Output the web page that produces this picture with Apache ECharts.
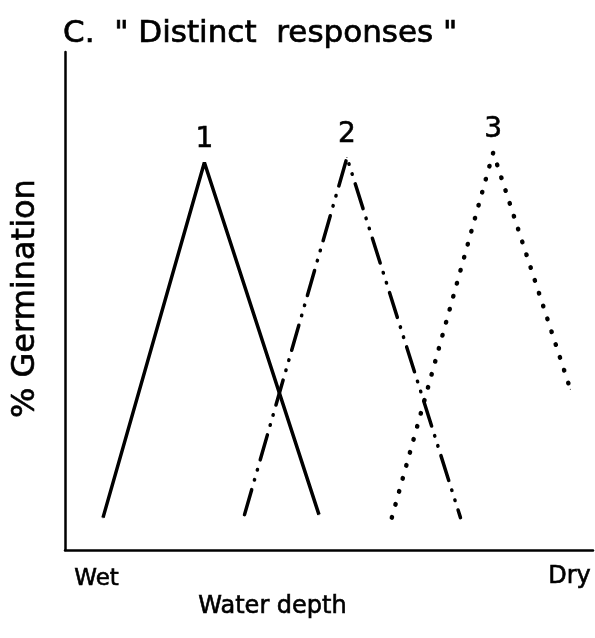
<!DOCTYPE html>
<html><head><meta charset="utf-8">
<script src="https://cdn.jsdelivr.net/npm/echarts@6/dist/echarts.min.js"></script>
<style>html,body{margin:0;padding:0;background:#fff}#c{width:595px;height:638px}</style>
</head><body><div id="c"></div>
<script>
// Water depth (0 = wet, 100 = dry), % germination (relative)
const seriesNames = ['1', '2', '3'];
const s1x = [7.2, 26.4, 48.1];
const s1y = [6.5, 77.8, 7.1];
const s2x = [34.0, 53.4, 74.9];
const s2y = [7.1, 78.8, 6.5];
const s3x = [61.9, 81.1, 95.7];
const s3y = [6.5, 79.8, 32.3];
const peakIndex = 1;

const F = 'DejaVu Sans';
function pts(xs, ys, name) {
  return xs.map((x, i) => {
    const d = { value: [x, ys[i]] };
    if (i === peakIndex) d.label = { show: true, formatter: name, position: 'top', distance: 8,
      fontFamily: F, fontSize: 28, color: '#000', textBorderColor: '#000', textBorderWidth: 0.6 };
    return d;
  });
}
const chart = echarts.init(document.getElementById('c'), null, { renderer: 'canvas' });
chart.setOption({
  animation: false,
  backgroundColor: '#fff',
  grid: { left: 65, right: 2, top: 52, bottom: 88 },
  title: { text: 'C.  " Distinct  responses "', left: 58, top: 13,
    textStyle: { fontFamily: F, fontSize: 31, fontWeight: 'normal', color: '#000',
      textBorderColor: '#000', textBorderWidth: 0.7 } },
  xAxis: { type: 'value', min: 0, max: 100, axisLine: { lineStyle: { color: '#000', width: 2.5 } },
    axisTick: { show: false }, axisLabel: { show: false }, splitLine: { show: false } },
  yAxis: { type: 'value', min: 0, max: 100, axisLine: { show: true, lineStyle: { color: '#000', width: 2.5 } },
    axisTick: { show: false }, axisLabel: { show: false }, splitLine: { show: false } },
  graphic: [
    { type: 'text', left: 74, top: 567, style: { text: 'Wet', font: '23px "DejaVu Sans"', fill: '#000', stroke: '#000', lineWidth: 0.6 } },
    { type: 'text', right: 4, top: 564, style: { text: 'Dry', font: '24px "DejaVu Sans"', fill: '#000', stroke: '#000', lineWidth: 0.6 } },
    { type: 'text', left: 198, top: 594, style: { text: 'Water depth', font: '24px "DejaVu Sans"', fill: '#000', stroke: '#000', lineWidth: 0.6 } },
    { type: 'text', x: 10, y: 418, rotation: Math.PI / 2, style: { text: '% Germination', font: '32px "DejaVu Sans"', fill: '#000', stroke: '#000', lineWidth: 0.6 } }
  ],
  series: [
    { type: 'line', name: seriesNames[0], data: pts(s1x, s1y, seriesNames[0]), symbol: 'circle', symbolSize: 1,
      itemStyle: { color: '#000' }, lineStyle: { color: '#000', width: 3.5 } },
    { type: 'line', name: seriesNames[1], data: pts(s2x, s2y, seriesNames[1]), symbol: 'circle', symbolSize: 1,
      itemStyle: { color: '#000' }, lineStyle: { color: '#000', width: 3.5, cap: 'round', type: [26, 10, 0.5, 10, 0.5, 10] } },
    { type: 'line', name: seriesNames[2], data: pts(s3x, s3y, seriesNames[2]), symbol: 'circle', symbolSize: 1,
      itemStyle: { color: '#000' }, lineStyle: { color: '#000', width: 4.5, cap: 'round', type: [0.5, 13] } }
  ]
});
</script></body></html>
